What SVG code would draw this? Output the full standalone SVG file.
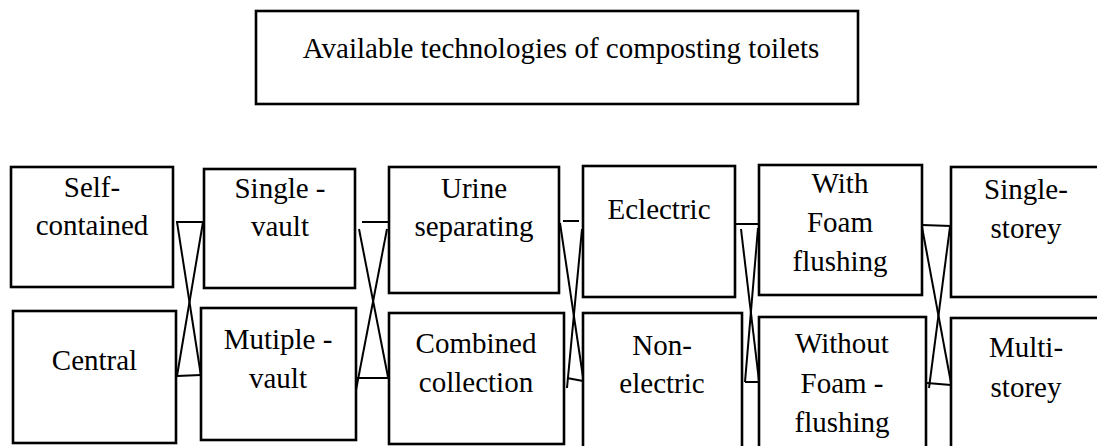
<svg xmlns="http://www.w3.org/2000/svg" width="1097" height="446" viewBox="0 0 1097 446">
<style>
.box{fill:#fff;stroke:#000;stroke-width:2.6}
.t{font-size:29px;fill:#000;text-anchor:middle}
.c line{stroke:#000;stroke-width:2}
</style>
<rect width="1097" height="446" fill="#fff"/>
<g font-family="Liberation Serif, Times New Roman, DejaVu Serif, serif">
<g id="title"><rect class="box" x="256" y="11" width="602" height="93"/><text class="t" x="561" y="58">Available technologies of composting toilets</text></g>
<g id="self-contained"><rect class="box" x="11" y="167" width="162" height="120"/><text class="t" x="92" y="197">Self-</text><text class="t" x="92" y="235">contained</text></g>
<g id="central"><rect class="box" x="13" y="311" width="163" height="132"/><text class="t" x="94.5" y="370">Central</text></g>
<g id="single-vault"><rect class="box" x="204" y="169" width="151" height="119"/><text class="t" x="280" y="198">Single -</text><text class="t" x="280" y="236">vault</text></g>
<g id="multiple-vault"><rect class="box" x="201" y="308" width="155" height="132"/><text class="t" x="278" y="349">Mutiple -</text><text class="t" x="278" y="388">vault</text></g>
<g id="urine-separating"><rect class="box" x="389" y="167" width="170" height="126"/><text class="t" x="474" y="198">Urine</text><text class="t" x="474" y="236">separating</text></g>
<g id="combined-collection"><rect class="box" x="389" y="313" width="175" height="131"/><text class="t" x="476" y="353">Combined</text><text class="t" x="476" y="392">collection</text></g>
<g id="eclectric"><rect class="box" x="583" y="166" width="152" height="131"/><text class="t" x="659" y="219">Eclectric</text></g>
<g id="non-electric"><rect class="box" x="583" y="313" width="159" height="140"/><text class="t" x="662" y="355">Non-</text><text class="t" x="662" y="393">electric</text></g>
<g id="with-foam"><rect class="box" x="759" y="165" width="163" height="130"/><text class="t" x="840" y="193">With</text><text class="t" x="840" y="232">Foam</text><text class="t" x="840" y="271">flushing</text></g>
<g id="without-foam"><rect class="box" x="759" y="317" width="167" height="140"/><text class="t" x="842" y="353">Without</text><text class="t" x="842" y="393">Foam -</text><text class="t" x="842" y="432">flushing</text></g>
<g id="single-storey"><rect class="box" x="951" y="167" width="148" height="130"/><text class="t" x="1026" y="199">Single-</text><text class="t" x="1026" y="238">storey</text></g>
<g id="multi-storey"><rect class="box" x="951" y="318" width="148" height="140"/><text class="t" x="1026" y="357">Multi-</text><text class="t" x="1026" y="397">storey</text></g>
</g>
<g id="connectors" class="c">
<line x1="176" y1="222" x2="203" y2="222"/><line x1="177" y1="222" x2="201" y2="376"/><line x1="203" y1="222" x2="177" y2="376"/><line x1="177" y1="376" x2="201" y2="375"/>
<line x1="362" y1="222" x2="388" y2="222"/><line x1="359" y1="229" x2="388" y2="377"/><line x1="387" y1="229" x2="356" y2="390"/><line x1="356" y1="378" x2="388" y2="378"/>
<line x1="563" y1="221" x2="579" y2="221"/><line x1="560" y1="223" x2="583" y2="377"/><line x1="582" y1="229" x2="567" y2="388"/><line x1="567" y1="378" x2="583" y2="381"/>
<line x1="736" y1="224" x2="759" y2="224"/><line x1="741" y1="229" x2="759" y2="381"/><line x1="758" y1="228" x2="745" y2="382"/><line x1="745" y1="382" x2="759" y2="382"/>
<line x1="922" y1="225" x2="951" y2="226"/><line x1="922" y1="227" x2="951" y2="383"/><line x1="950" y1="227" x2="929" y2="388"/><line x1="927" y1="383" x2="951" y2="385"/>
</g>
</svg>
